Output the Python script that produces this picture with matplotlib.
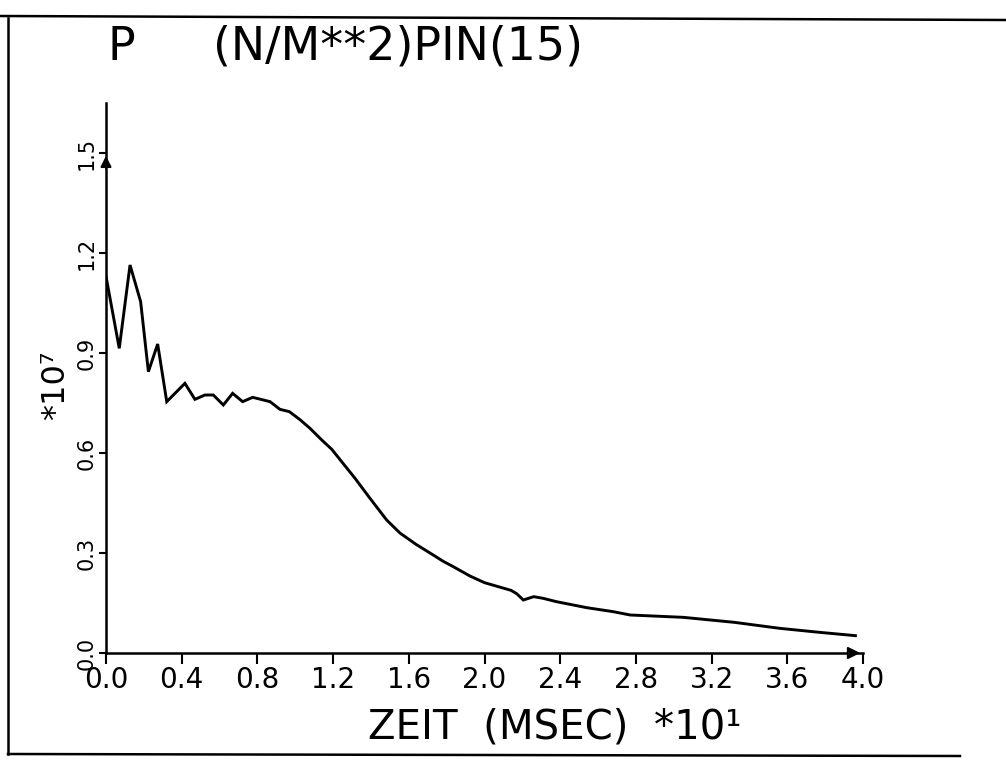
import numpy as np
import matplotlib
matplotlib.use("Agg")
import matplotlib.pyplot as plt
from matplotlib.lines import Line2D

# curve, pressure in units of 1e7 N/m**2, time in units of 10 msec
zeit = [0.0, 0.070, 0.127, 0.183, 0.224, 0.273, 0.321, 0.417, 0.470, 0.523,
        0.567, 0.620, 0.669, 0.722, 0.775, 0.867, 0.919, 0.969, 1.025, 1.078,
        1.140, 1.193, 1.316, 1.395, 1.483, 1.553, 1.638, 1.729, 1.782, 1.835,
        1.923, 2.000, 2.140, 2.170, 2.205, 2.260, 2.310, 2.380, 2.540, 2.680,
        2.770, 3.050, 3.320, 3.560, 3.770, 3.960]
druck = [1.130, 0.914, 1.164, 1.054, 0.844, 0.927, 0.754, 0.809, 0.761, 0.774,
         0.774, 0.744, 0.779, 0.754, 0.767, 0.754, 0.731, 0.724, 0.700, 0.674,
         0.639, 0.611, 0.524, 0.464, 0.399, 0.360, 0.326, 0.294, 0.275, 0.259,
         0.231, 0.211, 0.188, 0.178, 0.159, 0.169, 0.164, 0.154, 0.136, 0.124,
         0.114, 0.107, 0.092, 0.074, 0.062, 0.052]

x_ticks = [0.0, 0.4, 0.8, 1.2, 1.6, 2.0, 2.4, 2.8, 3.2, 3.6, 4.0]
y_ticks = [0.0, 0.3, 0.6, 0.9, 1.2, 1.5]

title_p = "P"
title_rest = "(N/M**2)PIN(15)"
x_label = "ZEIT  (MSEC)  *10\u00b9"
y_label = "*10\u2077"

plt.rcParams['font.family'] = ['DejaVu Sans']

fig = plt.figure(figsize=(10.06, 7.63), dpi=100)
ax = fig.add_axes([106/1006, 1 - 653/763, 757/1006, 550/763])

ax.plot(zeit, druck, color='black', lw=2.1, solid_joinstyle='miter')

ax.set_xlim(0, 4.0)
ax.set_ylim(0, 1.65)
for s in ['top', 'right']:
    ax.spines[s].set_visible(False)
for s in ['left', 'bottom']:
    ax.spines[s].set_linewidth(1.8)

ax.set_xticks(x_ticks)
ax.set_xticklabels([f'{v:.1f}' for v in x_ticks], fontsize=20)
ax.set_yticks(y_ticks)
ax.set_yticklabels([f'{v:.1f}' for v in y_ticks], fontsize=15, rotation=90, va='center')
ax.tick_params(axis='x', direction='out', length=8, width=1.5, pad=1)
ax.tick_params(axis='y', direction='out', length=5, width=1.5, pad=2)

# plotter arrows at axis ends
ax.annotate('', xy=(x_ticks[-1], 0), xytext=(-13, 0), textcoords='offset points',
            arrowprops=dict(arrowstyle='-|>', color='black', lw=1.5, mutation_scale=18),
            annotation_clip=False)
ax.annotate('', xy=(0, y_ticks[-1]), xytext=(0, -13), textcoords='offset points',
            arrowprops=dict(arrowstyle='-|>', color='black', lw=1.5, mutation_scale=16),
            annotation_clip=False)

fig.text(108/1006, 1 - 60/763, title_p, fontsize=33, va='baseline', ha='left')
fig.text(213/1006, 1 - 60/763, title_rest, fontsize=33, va='baseline', ha='left')
fig.text(555/1006, 1 - 738/763, x_label, fontsize=29, va='baseline', ha='center')
fig.text(56/1006, 1 - 385/763, y_label, fontsize=23, va='center', ha='center', rotation=90)

# page frame
fig.add_artist(Line2D([0, 1], [1 - 16/763, 1 - 20/763], color='black', lw=1.8))
fig.add_artist(Line2D([8/1006, 8/1006], [1 - 18/763, 1 - 754/763], color='black', lw=1.8))
fig.add_artist(Line2D([8/1006, 960/1006], [1 - 754/763, 1 - 756/763], color='black', lw=1.8))

fig.savefig('out.png', dpi=100)
